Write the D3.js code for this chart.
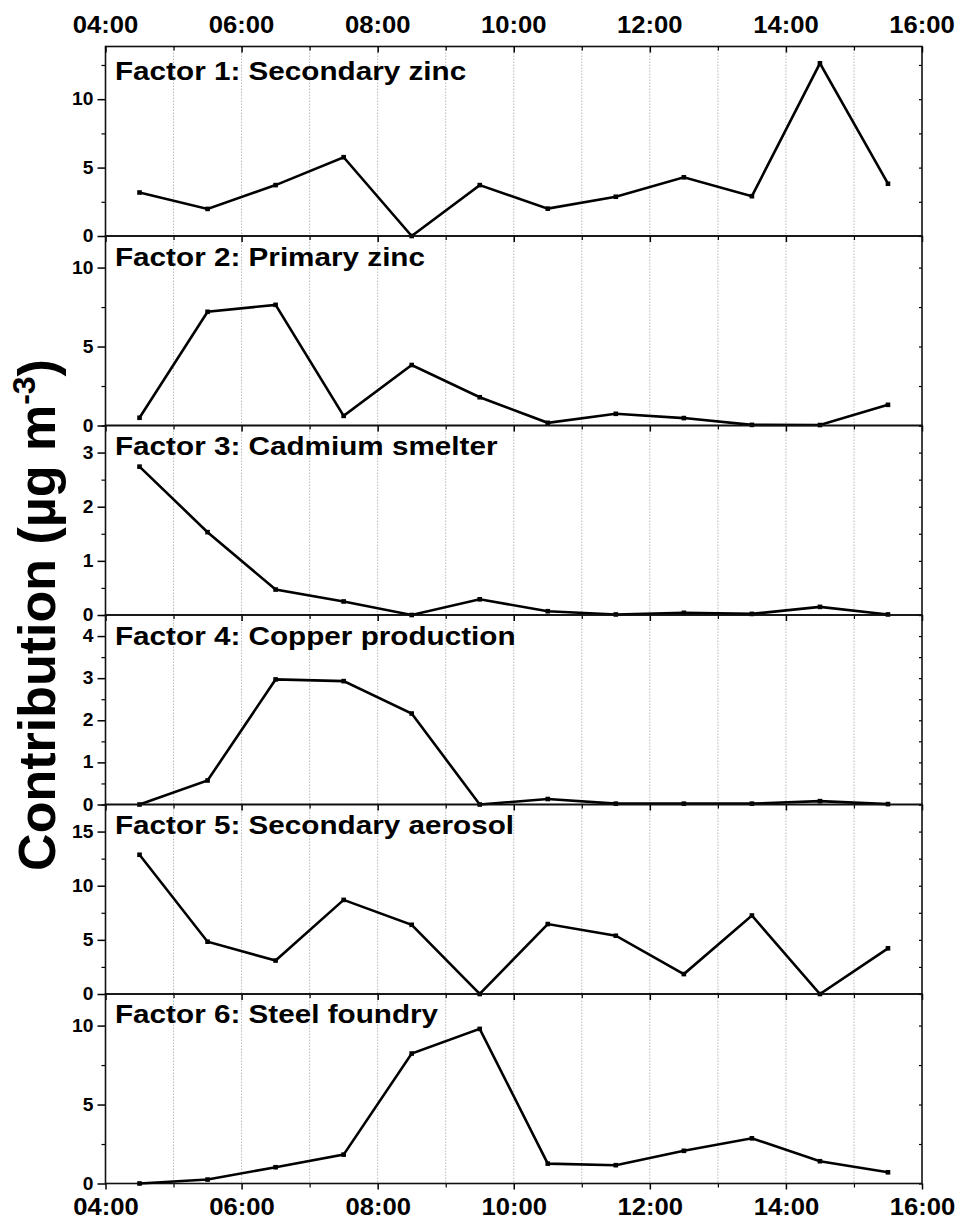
<!DOCTYPE html>
<html>
<head>
<meta charset="utf-8">
<script src="https://cdn.jsdelivr.net/npm/d3@7/dist/d3.min.js"></script>
<style>
  html, body { margin: 0; padding: 0; background: #fff; }
  svg { display: block; font-family: "Liberation Sans", Arial, sans-serif; }
</style>
</head>
<body>
<svg id="chart" width="956" height="1220"></svg>
<script>
// Sampling times (hourly averages, centred on the half hour)
const times = ["04:30", "05:30", "06:30", "07:30", "08:30", "09:30",
               "10:30", "11:30", "12:30", "13:30", "14:30", "15:30"];

// Hour labels on the shared time axis
const hourLabels = ["04:00", "06:00", "08:00", "10:00", "12:00", "14:00", "16:00"];

// Factor names
const factorNames = [
  "Factor 1: Secondary zinc",
  "Factor 2: Primary zinc",
  "Factor 3: Cadmium smelter",
  "Factor 4: Copper production",
  "Factor 5: Secondary aerosol",
  "Factor 6: Steel foundry"
];

// Factor contributions (µg m-3)
const factor1 = [3.18, 1.98, 3.72, 5.76, 0.0, 3.72, 2.0, 2.87, 4.29, 2.91, 12.62, 3.82];
const factor2 = [0.49, 7.2, 7.64, 0.61, 3.83, 1.79, 0.17, 0.74, 0.47, 0.04, 0.03, 1.31];
const factor3 = [2.74, 1.53, 0.47, 0.25, 0.0, 0.29, 0.07, 0.01, 0.04, 0.02, 0.15, 0.01];
const factor4 = [0.0, 0.57, 2.97, 2.93, 2.16, 0.0, 0.13, 0.02, 0.02, 0.02, 0.08, 0.01];
const factor5 = [12.86, 4.83, 3.09, 8.69, 6.39, 0.0, 6.46, 5.38, 1.84, 7.25, 0.0, 4.22];
const factor6 = [0.0, 0.25, 1.03, 1.83, 8.23, 9.79, 1.26, 1.16, 2.07, 2.86, 1.41, 0.71];

// Y-axis extent and tick steps for each panel
const yMax = [13.85, 12, 3.5, 4.5, 17.5, 12];
const yMajorStep = [5, 5, 1, 1, 5, 5];
const yMinorStep = [2.5, 2.5, 0.5, 0.5, 2.5, 2.5];

const series = [factor1, factor2, factor3, factor4, factor5, factor6];

// ---- layout ----
const left = 105.5, right = 922;
const top0 = 46.5, panelH = 189.5;
const titleDy = [33, 29.5, 29.5, 29.5, 29.8, 28.5];
const sx = 1.1; // horizontal stretch of the lettering

const svg = d3.select("#chart");

const toHours = s => { const [h, m] = s.split(":").map(Number); return h + m / 60; };

const x = d3.scaleLinear().domain([4, 16]).range([left, right]);
const evenHours = hourLabels.map(toHours);
const allHours = d3.range(4, 17);
const oddHours = allHours.filter(h => h % 2 === 1);

const bottom = top0 + panelH * series.length;

// dotted hourly grid across all panels
svg.append("g")
  .selectAll("line")
  .data(allHours.filter(h => h > 4 && h < 16))
  .join("line")
  .attr("x1", d => x(d)).attr("x2", d => x(d))
  .attr("y1", top0).attr("y2", bottom)
  .attr("stroke", "#b8b8b8")
  .attr("stroke-width", 1)
  .attr("stroke-dasharray", "1.5,1.5");

const fmtTick = d => (Number.isInteger(d) ? d3.format("d")(d) : d);

series.forEach((vals, i) => {
  const y0 = top0 + i * panelH;
  const y = d3.scaleLinear().domain([0, yMax[i]]).range([y0 + panelH, y0]);
  const g = svg.append("g");

  const majors = d3.range(0, yMax[i] + 1e-9, yMajorStep[i]);
  const minors = d3.range(0, yMax[i] + 1e-9, yMinorStep[i])
    .filter(v => !majors.some(m => Math.abs(m - v) < 1e-9));

  // left axis: major ticks with labels, minor ticks without
  const yAxis = g.append("g")
    .attr("transform", `translate(${left},0)`)
    .call(d3.axisLeft(y).tickValues(majors).tickSize(8).tickPadding(4).tickFormat(fmtTick));
  yAxis.select(".domain").remove();
  yAxis.selectAll(".tick line").attr("stroke", "#000").attr("stroke-width", 1.5);
  yAxis.selectAll(".tick text")
    .attr("font-size", 17.5).attr("font-weight", "bold").attr("fill", "#000")
    .attr("font-family", "Liberation Sans, Arial, sans-serif")
    .attr("x", -12 / sx)
    .attr("transform", `scale(${sx},1)`);

  const yMinorAxis = g.append("g")
    .attr("transform", `translate(${left},0)`)
    .call(d3.axisLeft(y).tickValues(minors).tickSize(4).tickFormat(""));
  yMinorAxis.select(".domain").remove();
  yMinorAxis.selectAll(".tick line").attr("stroke", "#000").attr("stroke-width", 1.2);

  // right axis: short inward ticks
  const yRight = g.append("g")
    .attr("transform", `translate(${right},0)`)
    .call(d3.axisLeft(y).tickValues(majors.concat(minors)).tickSize(3).tickFormat(""));
  yRight.select(".domain").remove();
  yRight.selectAll(".tick line").attr("stroke", "#000").attr("stroke-width", 1.2);

  // bottom axis of the panel: ticks pointing down
  const xMajor = g.append("g")
    .attr("transform", `translate(0,${y0 + panelH})`)
    .call(d3.axisBottom(x).tickValues(evenHours).tickSize(6)
      .tickFormat(i === series.length - 1 ? (d, k) => hourLabels[k] : ""));
  xMajor.select(".domain").remove();
  xMajor.selectAll(".tick line").attr("stroke", "#000").attr("stroke-width", 1.5);
  xMajor.selectAll(".tick text")
    .attr("font-size", 23.3).attr("font-weight", "bold").attr("fill", "#000")
    .attr("font-family", "Liberation Sans, Arial, sans-serif")
    .attr("dy", null).attr("y", 31.5)
    .attr("transform", `scale(${sx},1)`);

  const xMinor = g.append("g")
    .attr("transform", `translate(0,${y0 + panelH})`)
    .call(d3.axisBottom(x).tickValues(oddHours).tickSize(4).tickFormat(""));
  xMinor.select(".domain").remove();
  xMinor.selectAll(".tick line").attr("stroke", "#000").attr("stroke-width", 1.2);

  // frame
  g.append("rect")
    .attr("x", left).attr("y", y0)
    .attr("width", right - left).attr("height", panelH)
    .attr("fill", "none").attr("stroke", "#111").attr("stroke-width", 1.6);

  // line and markers
  const pts = vals.map((v, k) => [x(toHours(times[k])), y(v)]);
  g.append("path")
    .datum(pts)
    .attr("d", d3.line())
    .attr("fill", "none")
    .attr("stroke", "#000")
    .attr("stroke-width", 2.6)
    .attr("stroke-linejoin", "miter");
  g.selectAll("rect.m")
    .data(pts)
    .join("rect")
    .attr("class", "m")
    .attr("x", d => d[0] - 2.3).attr("y", d => d[1] - 2.3)
    .attr("width", 4.6).attr("height", 4.6)
    .attr("fill", "#000");

  // panel title
  g.append("text")
    .attr("transform", `translate(115,${y0 + titleDy[i]}) scale(1.12,1)`)
    .attr("font-size", 26.5).attr("font-weight", "bold").attr("fill", "#000")
    .text(factorNames[i]);
});

// top time axis (labels + inward ticks)
const topMajor = svg.append("g")
  .attr("transform", `translate(0,${top0})`)
  .call(d3.axisBottom(x).tickValues(evenHours).tickSize(6).tickFormat(""));
topMajor.select(".domain").remove();
topMajor.selectAll(".tick line").attr("stroke", "#000").attr("stroke-width", 1.5);
const topMinor = svg.append("g")
  .attr("transform", `translate(0,${top0})`)
  .call(d3.axisBottom(x).tickValues(oddHours).tickSize(4).tickFormat(""));
topMinor.select(".domain").remove();
topMinor.selectAll(".tick line").attr("stroke", "#000").attr("stroke-width", 1.2);

svg.append("g")
  .selectAll("text")
  .data(hourLabels)
  .join("text")
  .attr("transform", d => `translate(${x(toHours(d))},33) scale(${sx},1)`)
  .attr("text-anchor", "middle")
  .attr("font-size", 23.3).attr("font-weight", "bold").attr("fill", "#000")
  .text(d => d);

// y-axis title
const yt = svg.append("text")
  .attr("transform", `translate(55,${(top0 + bottom) / 2}) rotate(-90)`)
  .attr("text-anchor", "middle")
  .attr("font-size", 52).attr("font-weight", "bold").attr("fill", "#000");
yt.append("tspan").text("Contribution (µg m");
yt.append("tspan").attr("font-size", 32).attr("dy", -20).text("-3");
yt.append("tspan").attr("dy", 20).text(")");
</script>
</body>
</html>
